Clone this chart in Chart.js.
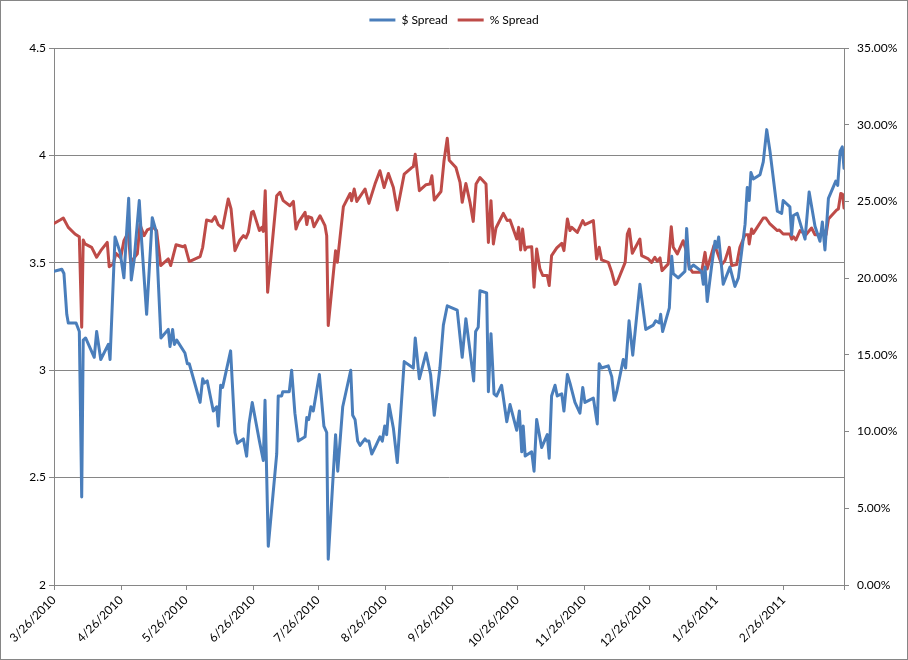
<!DOCTYPE html>
<html>
<head>
<meta charset="utf-8">
<title>Spread</title>
<script src="https://cdn.jsdelivr.net/npm/chart.js@4.4.0/dist/chart.umd.min.js"></script>
<style>
  html, body { margin: 0; padding: 0; background: #fff; }
  #wrap { width: 906px; height: 658px; border: 1px solid #868686; position: relative; }
</style>
</head>
<body>
<div id="wrap"><canvas id="spreadchart"></canvas></div>
<script>
// x values are days since 3/26/2010
const dollarDays = [
  0,3.6,4.6,5.9,6.6,10.2,11.7,12.8,13.5,14.6,
  18.6,19.7,21.6,25.1,25.9,28.2,30.5,32.3,34.5,35.7,
  37,39.4,40.5,42.8,45.4,47.1,49.4,52.8,53.6,54.8,
  55.6,56.7,60.5,61.6,62.5,67.5,68.7,69.4,70.8,73.6,
  75.2,75.9,77,77.9,81.6,83.6,84.7,87.5,89,90.1,
  91.6,94.9,96.7,97.5,99,102.9,103.6,105.2,105.7,108.7,
  109.8,111.3,112.9,116,116.8,117.7,118.7,119.8,122.6,124.7,
  126,126.7,130.1,131.1,133.4,137.1,138,139.1,140.3,141.4,
  143.7,144.5,145.5,146.8,148.3,150.6,151.7,152.8,153.7,154.8,
  156.8,158.6,160.2,161.8,166,166.9,168.8,171.9,174,175.7,
  178.3,179.9,181.7,186.3,188.6,190.3,192.2,193.9,194.8,196,
  196.8,199.9,200.7,201.9,203.3,204.5,206.8,209.2,210.7,213.8,
  215,216.1,216.8,217.7,220.7,221.8,223,225.3,227.9,228.8,
  229.9,231.5,232.5,234.6,235.6,237.2,238.4,240.7,243,244.3,
  245.3,249.2,251,251.9,253,256.1,257.7,258.9,260,263,
  264.1,265.7,267.4,270.7,273.4,276.9,278,279.7,280.3,281.2,
  284.3,285.4,286.1,288.4,291.5,292.3,293.5,295.4,299.2,300,
  300.8,301.8,303.9,305.4,306.2,307.1,309.2,312.3,314.6,316.2,
  319.3,320.3,321.2,322,323.1,326.2,327.7,329.3,330.8,334.2,
  336.2,336.9,340,340.8,341.6,343.4,347,348.9,351.6,353.9,
  355,356.2,357.8,361.2,362.1,363.2,364.2,365
];
const dollarSpread = [
  3.46,3.47,3.45,3.26,3.22,3.22,3.18,2.41,3.14,3.15,
  3.06,3.18,3.05,3.12,3.05,3.62,3.55,3.43,3.80,3.42,
  3.51,3.79,3.60,3.26,3.71,3.65,3.15,3.19,3.11,3.19,
  3.12,3.14,3.08,3.03,3.03,2.85,2.96,2.94,2.95,2.81,
  2.83,2.74,2.93,2.92,3.09,2.71,2.66,2.68,2.60,2.75,
  2.85,2.67,2.58,2.86,2.18,2.61,2.88,2.88,2.90,2.90,
  3.00,2.80,2.67,2.69,2.78,2.77,2.83,2.81,2.98,2.74,
  2.71,2.12,2.70,2.53,2.83,3.00,2.79,2.77,2.67,2.65,
  2.68,2.67,2.67,2.61,2.64,2.69,2.67,2.74,2.70,2.84,
  2.73,2.57,2.80,3.04,3.01,3.15,2.96,3.08,2.98,2.79,
  3.01,3.21,3.30,3.28,3.06,3.24,3.09,2.95,3.18,3.20,
  3.37,3.36,2.90,3.17,2.89,2.88,2.93,2.76,2.84,2.72,
  2.81,2.62,2.74,2.60,2.62,2.53,2.77,2.64,2.70,2.59,
  2.88,2.93,2.88,2.89,2.81,2.98,2.94,2.85,2.80,2.92,
  2.85,2.87,2.75,3.03,3.01,3.02,2.97,2.86,2.90,3.05,
  3.01,3.23,3.07,3.40,3.19,3.21,3.23,3.22,3.26,3.18,
  3.29,3.53,3.45,3.43,3.46,3.66,3.47,3.49,3.46,3.40,
  3.48,3.32,3.49,3.60,3.57,3.62,3.40,3.48,3.39,3.43,
  3.68,3.85,3.79,3.92,3.89,3.91,3.97,4.12,4.02,3.74,
  3.73,3.79,3.76,3.63,3.72,3.73,3.61,3.83,3.67,3.60,
  3.69,3.56,3.80,3.88,3.86,4.02,4.04,3.94
];

const pctDays = [
  0,2.8,4.3,6.6,9.7,11.7,12.8,13.5,14.3,17.4,
  19.7,21.6,24.6,25.5,27.4,28.6,30.8,32.3,34.3,35.4,
  38.5,39.7,41.6,43.1,45.9,47.4,49.3,52.8,53.9,56.4,
  59.7,60.5,62.5,67.5,68.7,70.5,72.9,74.4,75.9,77.9,
  80.5,81.8,83.6,85.9,87.5,88.7,89.8,91.3,92.1,94.9,
  96,96.7,97.6,98.7,102.9,104.4,105.9,109,110.6,111.8,
  112.9,116,116.8,117.5,119.1,120.1,122.9,125.2,126,126.7,
  130.1,130.9,133.7,136.8,137.5,138.7,139.9,143.7,145.5,148.3,
  150.6,152.5,154.5,156.8,158.6,161.8,165.3,166,166.9,168.8,
  171.9,173.7,174.6,175.7,178.8,180.2,181.7,182.6,185.7,187.6,
  188.6,190.3,192.2,193.7,195,196.8,199.6,200.7,201.9,203,
  204.2,207.6,209.4,210.7,213.8,214.7,215.6,216.5,217.6,218.4,
  220.7,221.8,223,224.5,225.8,227.9,228.8,229.9,232.3,234.6,
  235.6,237.2,238.4,239.2,241.8,244.3,245.3,249.2,250.7,251.9,
  253,256.1,257.7,259.2,260,263.9,264.9,265.8,267.2,270.7,
  271.5,274.6,276.1,277.6,278.7,280,280.9,283.8,285.2,286.1,
  288,290.7,292.3,293.5,295.1,299.2,300.8,301.8,304.9,306.2,
  308.5,310,312,313.1,315.4,316.9,319.3,320.8,321.2,322.3,
  323.1,325.4,327.7,328.9,330.8,334.2,335.1,336.9,340,340.8,
  341.6,342.8,344.7,347.4,350,351.6,353.9,355.5,356.7,357.8,
  361.6,362.4,363.5,364.3,365
];
const pctSpread = [
  23.57,23.79,23.92,23.31,22.88,22.70,16.80,22.49,22.23,22.01,
  21.36,21.79,22.33,20.75,20.93,21.62,21.32,22.44,22.98,21.03,
  21.58,23.49,22.77,23.14,23.31,23.10,20.82,21.25,20.82,22.18,
  22.05,22.12,21.08,21.40,22.01,23.79,23.70,24.01,23.49,23.27,
  25.16,24.51,21.79,22.49,22.77,22.62,22.98,24.29,24.35,23.10,
  23.31,23.05,25.70,19.08,25.37,25.59,25.05,24.72,25.00,23.20,
  23.64,24.29,23.49,24.01,23.92,23.35,24.07,23.42,22.77,16.91,
  21.79,21.03,24.66,25.52,25.05,25.81,25.00,25.81,24.87,26.13,
  27.00,25.91,26.82,25.91,24.44,26.78,27.21,27.26,28.08,25.70,
  26.09,26.13,26.67,25.09,25.65,27.65,29.12,27.69,27.21,26.24,
  24.94,26.17,24.94,23.70,26.13,26.56,26.13,22.33,25.05,22.23,
  23.27,24.22,23.75,23.79,22.55,23.31,21.84,23.20,21.84,22.01,
  22.05,19.41,21.90,20.60,20.17,20.17,19.52,21.47,21.97,22.27,
  21.79,23.86,23.10,23.31,22.98,23.75,23.49,23.75,21.25,22.01,
  21.19,21.03,20.38,19.58,19.67,21.03,22.88,23.20,21.62,22.55,
  21.47,21.25,21.03,21.36,21.10,21.32,20.49,20.93,23.35,22.01,
  21.58,22.44,21.68,20.71,20.38,20.38,21.68,20.60,22.12,21.79,
  20.88,21.14,22.01,20.82,20.88,22.01,22.83,22.83,22.23,23.20,
  22.92,23.42,23.92,23.92,23.53,23.10,23.14,22.88,22.88,22.55,
  22.70,22.49,23.10,22.83,23.27,22.83,22.83,23.10,22.83,23.86,
  24.44,24.51,25.52,25.48,24.57
];

const dateLabels = ['3/26/2010','4/26/2010','5/26/2010','6/26/2010','7/26/2010','8/26/2010',
  '9/26/2010','10/26/2010','11/26/2010','12/26/2010','1/26/2011','2/26/2011'];
const endLabel = '3/26/2011';

function dayOf(s) {
  const [m, d, y] = s.split('/').map(Number);
  return Math.round((Date.UTC(y, m - 1, d) - Date.UTC(2010, 2, 26)) / 86400000);
}
const tickDays = dateLabels.map(dayOf);
const lastDay = dayOf(endLabel);

const gridGray = '#868686';
const font = { family: 'Lato', size: 12 };

const legendGap = {
  id: 'legendGap',
  beforeInit(chart) {
    const fit = chart.legend.fit;
    chart.legend.fit = function () {
      fit.bind(chart.legend)();
      this.height += 12;
    };
  }
};

const ctx = document.getElementById('spreadchart');

new Chart(ctx, {
  type: 'line',
  data: {
    datasets: [{
      label: '$ Spread',
      data: dollarDays.map((d, i) => ({ x: d, y: dollarSpread[i] })),
      borderColor: '#4A7EBB',
      backgroundColor: '#4A7EBB',
      borderWidth: 3,
      pointRadius: 0,
      borderJoinStyle: 'round',
      borderCapStyle: 'round',
      yAxisID: 'y'
    }, {
      label: '% Spread',
      data: pctDays.map((d, i) => ({ x: d, y: pctSpread[i] })),
      borderColor: '#BE4B48',
      backgroundColor: '#BE4B48',
      borderWidth: 3,
      pointRadius: 0,
      borderJoinStyle: 'round',
      borderCapStyle: 'round',
      yAxisID: 'y1'
    }]
  },
  options: {
    responsive: true,
    maintainAspectRatio: false,
    animation: false,
    layout: { padding: { top: 3, left: 0, right: 0, bottom: 0 } },
    plugins: {
      legend: {
        position: 'top',
        labels: {
          font: font,
          color: '#000',
          usePointStyle: true,
          pointStyle: 'line',
          pointStyleWidth: 26,
          padding: 10
        }
      },
      tooltip: { enabled: false }
    },
    scales: {
      x: {
        type: 'linear',
        min: 0,
        max: lastDay,
        afterBuildTicks: s => { s.ticks = tickDays.concat([lastDay]).map(v => ({ value: v })); },
        afterFit: s => { s.height = 74; },
        grid: { drawOnChartArea: false, drawTicks: true, tickLength: 5, color: gridGray },
        border: { display: true, color: gridGray },
        ticks: {
          autoSkip: false,
          maxRotation: 45,
          minRotation: 45,
          font: font,
          color: '#000',
          callback: v => {
            const i = tickDays.indexOf(v);
            return i >= 0 ? dateLabels[i] : '';
          }
        }
      },
      y: {
        position: 'left',
        min: 2,
        max: 4.5,
        afterFit: s => { s.width = 53; },
        grid: { color: gridGray, tickLength: 5 },
        border: { display: true, color: gridGray },
        ticks: {
          stepSize: 0.5,
          font: font,
          color: '#000',
          callback: v => String(+v.toFixed(1))
        }
      },
      y1: {
        position: 'right',
        min: 0,
        max: 35,
        afterFit: s => { s.width = 63; },
        grid: { drawOnChartArea: false, color: gridGray, tickLength: 5 },
        border: { display: true, color: gridGray },
        ticks: {
          stepSize: 5,
          font: font,
          color: '#000',
          padding: 8,
          callback: v => v.toFixed(2) + '%'
        }
      }
    }
  },
  plugins: [legendGap]
});
</script>
</body>
</html>
